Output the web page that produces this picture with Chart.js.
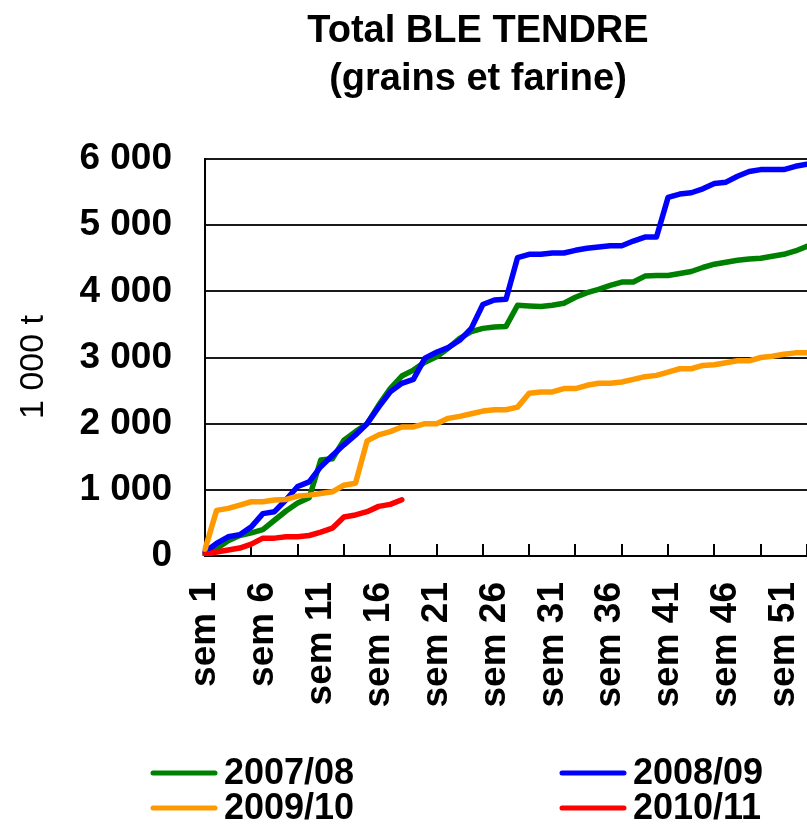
<!DOCTYPE html>
<html><head><meta charset="utf-8">
<script src="https://cdn.jsdelivr.net/npm/chart.js@4/dist/chart.umd.min.js"></script>
<style>html,body{margin:0;padding:0;background:#fff}</style>
</head><body>
<canvas id="c" width="807" height="827"></canvas>
<script>
const weeks = ['sem 1','sem 2','sem 3','sem 4','sem 5','sem 6','sem 7','sem 8','sem 9','sem 10',
  'sem 11','sem 12','sem 13','sem 14','sem 15','sem 16','sem 17','sem 18','sem 19','sem 20',
  'sem 21','sem 22','sem 23','sem 24','sem 25','sem 26','sem 27','sem 28','sem 29','sem 30',
  'sem 31','sem 32','sem 33','sem 34','sem 35','sem 36','sem 37','sem 38','sem 39','sem 40',
  'sem 41','sem 42','sem 43','sem 44','sem 45','sem 46','sem 47','sem 48','sem 49','sem 50',
  'sem 51','sem 52','sem 53'];

const s2007_08 = [30,110,230,310,350,400,540,680,800,880,1450,1470,1750,1880,2000,2280,2530,2720,2810,2930,
  3010,3140,3290,3390,3440,3460,3470,3790,3780,3770,3790,3820,3910,3980,4030,4090,4140,4140,4230,4240,
  4240,4270,4300,4360,4410,4440,4470,4490,4500,4530,4560,4610,4680];
const s2008_09 = [60,190,290,320,440,640,670,850,1050,1120,1350,1520,1680,1830,2000,2250,2480,2610,2670,2990,
  3080,3150,3260,3440,3800,3870,3880,4510,4560,4560,4580,4580,4620,4650,4670,4690,4690,4760,4820,4820,
  5420,5470,5490,5550,5630,5650,5740,5810,5840,5840,5840,5890,5920];
const s2009_10 = [100,690,720,770,820,820,845,855,905,920,945,970,1070,1100,1740,1830,1880,1950,1950,2000,
  2000,2080,2110,2150,2190,2210,2210,2250,2460,2480,2480,2530,2530,2580,2610,2610,2630,2670,2710,2730,
  2780,2830,2830,2880,2890,2920,2950,2950,3000,3020,3050,3070,3070];
const s2010_11 = [20,60,90,120,180,270,270,290,290,310,360,420,590,620,670,750,780,850];

const seriesNames = ['2007/08','2008/09','2009/10','2010/11'];
const seriesColors = ['#008000','#0000FF','#FF9900','#FF0000'];
const titleLines = ['Total BLE TENDRE','(grains et farine)'];
const yAxisTitle = '1 000 t';

const FONT = "'Liberation Sans', Arial, sans-serif";

function fmt(v){ return v === 0 ? '0' : (Math.floor(v/1000) + ' ' + String(v%1000).padStart(3,'0')); }

const titlePlugin = {
  id:'titleP',
  afterDraw(chart){
    const ctx = chart.ctx; ctx.save();
    ctx.fillStyle = '#000'; ctx.textAlign = 'center'; ctx.textBaseline = 'alphabetic';
    ctx.font = 'bold 38px ' + FONT;
    ctx.fillText(titleLines[0], 478, 42);
    ctx.fillText(titleLines[1], 478, 90);
    ctx.restore();
  }
};
const innerTicks = {
  id:'innerTicks',
  beforeDatasetsDraw(chart){
    const {ctx, chartArea, scales} = chart; const x = scales.x;
    ctx.save(); ctx.strokeStyle = '#000'; ctx.lineWidth = 2;
    for (let i = 0; i < weeks.length; i += 4){
      const px = Math.round(x.getPixelForValue(i));
      ctx.beginPath(); ctx.moveTo(px, chartArea.bottom); ctx.lineTo(px, chartArea.bottom - 12); ctx.stroke();
    }
    ctx.restore();
  }
};
const legendPlugin = {
  id:'legendP',
  afterDraw(chart){
    const ctx = chart.ctx; ctx.save();
    const colX = [153, 562], rowY = [773, 808];
    chart.data.datasets.forEach((ds, i) => {
      const x = colX[i % 2], y = rowY[Math.floor(i / 2)];
      ctx.strokeStyle = ds.borderColor; ctx.lineWidth = 5; ctx.lineCap = 'round';
      ctx.beginPath(); ctx.moveTo(x, y); ctx.lineTo(x + 62, y); ctx.stroke();
      ctx.fillStyle = '#000'; ctx.font = 'bold 36px ' + FONT; ctx.textAlign = 'left'; ctx.textBaseline = 'middle';
      ctx.fillText(ds.label, x + 71, y + 1);
    });
    ctx.restore();
  }
};

const mk = (i, data, order) => ({label: seriesNames[i], data, borderColor: seriesColors[i], backgroundColor: seriesColors[i],
  borderWidth: 5.5, pointRadius: 0, tension: 0, fill: false, borderJoinStyle: 'round', borderCapStyle: 'round', order});

new Chart(document.getElementById('c'), {
  type: 'line',
  data: { labels: weeks, datasets: [mk(0, s2007_08, 4), mk(1, s2008_09, 3), mk(2, s2009_10, 2), mk(3, s2010_11, 1)] },
  options: {
    responsive: false, animation: false, devicePixelRatio: 1,
    layout: { padding: { top: 159, left: 0, right: 0, bottom: 0 } },
    plugins: { legend: { display: false }, title: { display: false }, tooltip: { enabled: false } },
    scales: {
      x: {
        type: 'category', offset: false,
        grid: { display: false, drawTicks: false },
        border: { display: true, color: '#000', width: 2 },
        ticks: { autoSkip: false, maxRotation: 90, minRotation: 90, padding: 26, color: '#000',
          font: { family: FONT, size: 37, weight: 'bold' },
          callback: function(v, i){ return i % 5 === 0 ? this.getLabelForValue(v) : ''; } },
        afterFit: s => { s.height = 271; s.paddingLeft = 0; s.paddingRight = 0; }
      },
      y: {
        min: 0, max: 6000,
        ticks: { stepSize: 1000, padding: 33, color: '#000', font: { family: FONT, size: 37, weight: 'bold' }, callback: v => fmt(v) },
        grid: { color: c => c.tick && c.tick.value === 0 ? 'rgba(0,0,0,0)' : '#1a1a1a', lineWidth: 2, drawTicks: false },
        border: { display: true, color: '#000', width: 2 },
        title: { display: true, text: yAxisTitle + '\u00a0\u00a0', color: '#000', font: { family: FONT, size: 34, weight: 'normal' }, padding: { top: 13, bottom: 0 } },
        afterFit: s => { s.width = 205; s.paddingTop = 0; s.paddingBottom = 0; }
      }
    }
  },
  plugins: [titlePlugin, innerTicks, legendPlugin]
});
</script>
</body></html>
